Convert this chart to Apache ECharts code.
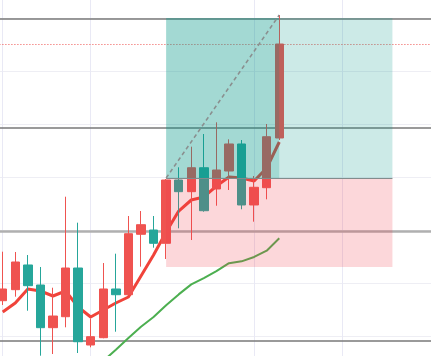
<!DOCTYPE html>
<html><head><meta charset="utf-8">
<script src="https://cdn.jsdelivr.net/npm/echarts@6/dist/echarts.min.js"></script>
<style>html,body{margin:0;padding:0;background:#fff;overflow:hidden}#c{width:431px;height:356px}</style>
</head><body><div id="c"></div>
<script>
// ---- data ----
const categories = ['T01','T02','T03','T04','T05','T06','T07','T08','T09','T10','T11','T12','T13','T14','T15','T16','T17','T18','T19','T20','T21','T22','T23','T24','T25','T26','T27','T28','T29','T30','T31','T32','T33','T34','T35'];
// [open, close, low, high]
const candles = [
  [106.66,108.87,105.85,115.91],
  [108.74,113.96,107.42,115.85],
  [113.40,109.49,104.77,115.28],
  [109.62,101.57, 96.28,113.02],
  [101.57,103.77, 96.60,109.11],
  [103.64,112.83,101.64,126.28],
  [112.83, 98.92, 96.79,121.38],
  [ 98.30, 99.87, 97.87,103.34],
  [ 99.68,108.87, 99.57,113.77],
  [108.87,107.79,100.81,115.53],
  [107.79,119.30,107.74,122.64],
  [119.19,121.00,113.08,123.58],
  [120.00,117.49,116.66,122.64],
  [117.49,129.43,114.53,129.62],
  [129.43,127.23,120.32,131.83],
  [127.23,131.75,118.11,135.72],
  [131.75,123.64,123.45,138.11],
  [127.74,131.32,124.58,140.32],
  [131.13,136.23,127.55,137.11],
  [136.23,124.72,123.91,136.98],
  [124.72,128.06,121.57,130.19],
  [127.98,137.60,125.79,140.00],
  [137.36,155.09,136.98,160.57]
];
const maFast = [104.53,106.23,108.87,108.49,107.55,108.49,105.47,103.58,104.91,106.23,107.36,111.32,115.28,119.62,123.58,125.66,126.23,128.30,130.00,129.81,129.25,131.70,136.60];
const maSlow = [null,null,null,null,null,null,null,null,95.28,97.42,99.62,101.75,103.58,105.81,107.85,109.74,110.94,112.23,113.74,114.09,114.91,116.09,118.43];
const gridLevels = [100,110,120,130,140,150,160];
const gridDayIdx = [0,7,20,27];
const darkLevels = [159.94,139.34,99.19];
const softLevel = 119.68;
const lastPrice = 155.09;
const entry = 129.81, target = 160.0, stop = 113.02;
const posStartIdx = 13, posEndIdx = 31, posNowIdx = 22;
const swingHigh = 160.57;
const yMin = 96.22642, yMax = 163.39623;

// ---- chart ----
const chart = echarts.init(document.getElementById('c'), null, {renderer:'canvas'});
const cat = i => categories[i];
const hLine = (v, style) => ({yAxis: v, lineStyle: style});
const option = {
  animation: false,
  backgroundColor: '#ffffff',
  grid: {left: -3.585, width: 440, top: 0, bottom: 0, containLabel: false, outerBoundsMode: 'none'},
  xAxis: {type: 'category', data: categories, boundaryGap: true, show: false},
  yAxis: {type: 'value', min: yMin, max: yMax, show: false, splitLine: {show: false}},
  series: [
    {
      type: 'line', name: 'bg', z: 0, data: [], silent: true,
      markLine: {
        silent: true, z: 0, symbol: ['none','none'], label: {show: false}, animation: false,
        data: [
          ...gridLevels.map(v => hLine(v, {color: '#eeeef4', width: 1, type: 'solid'})),
          ...gridDayIdx.map(i => ({xAxis: cat(i), lineStyle: {color: '#e9e9f5', width: 1, type: 'solid'}})),
          ...darkLevels.map(v => hLine(v, {color: '#787878', width: 1.5, type: 'solid'})),
          hLine(softLevel, {color: '#b0b0b0', width: 2.5, type: 'solid'}),
          hLine(lastPrice, {color: '#ef5350', width: 1, type: [1, 2]})
        ]
      }
    },
    {
      type: 'line', name: 'MA slow', z: 1, data: maSlow, symbol: 'none', connectNulls: false,
      lineStyle: {color: '#4caf50', width: 2}
    },
    {
      type: 'line', name: 'MA fast', z: 1, data: maFast, symbol: 'none',
      lineStyle: {color: '#f0433a', width: 3}
    },
    {
      type: 'candlestick', name: 'price', z: 2, data: candles, barWidth: 9,
      itemStyle: {color: '#ef5350', color0: '#26a69a', borderColor: '#ef5350', borderColor0: '#26a69a', borderWidth: 1}
    },
    {
      type: 'line', name: 'position', z: 10, data: [], silent: true,
      markArea: {
        silent: true, z: 10, label: {show: false},
        data: [
          [{xAxis: cat(posStartIdx), yAxis: entry, itemStyle: {color: 'rgba(0,150,136,0.2)'}}, {xAxis: cat(posEndIdx), yAxis: target}],
          [{xAxis: cat(posStartIdx), yAxis: stop, itemStyle: {color: 'rgba(242,54,69,0.2)'}}, {xAxis: cat(posEndIdx), yAxis: entry}],
          [{xAxis: cat(posStartIdx), yAxis: entry, itemStyle: {color: 'rgba(0,150,136,0.2)'}}, {xAxis: cat(posNowIdx), yAxis: target}]
        ]
      },
      markLine: {
        silent: true, z: 11, symbol: ['none','none'], label: {show: false},
        data: [
          [{coord: [cat(posStartIdx), entry], lineStyle: {color: '#828c8c', width: 1, type: 'solid'}}, {coord: [cat(posEndIdx), entry]}],
          [{coord: [cat(posStartIdx), entry], lineStyle: {color: '#8a8f8f', width: 1.5, type: [4, 3]}}, {coord: [cat(posNowIdx), swingHigh]}]
        ]
      }
    }
  ]
};
chart.setOption(option);
</script>
</body></html>
